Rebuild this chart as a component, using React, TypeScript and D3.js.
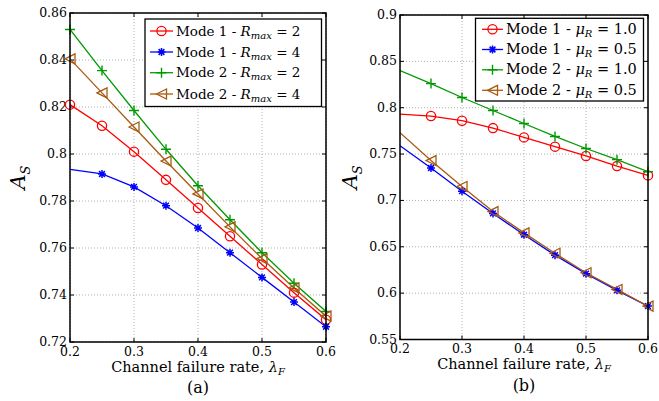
import React from "react";
import * as d3 from "d3";

const xVals = [0.2, 0.25, 0.3, 0.35, 0.4, 0.45, 0.5, 0.55, 0.6];
const xTicks = [0.2, 0.3, 0.4, 0.5, 0.6];

// Panel (a)
const aMode1R2 = [0.821, 0.812, 0.801, 0.789, 0.777, 0.765, 0.753, 0.741, 0.7295];
const aMode1R4 = [0.7935, 0.7915, 0.786, 0.778, 0.7685, 0.758, 0.7475, 0.737, 0.7265];
const aMode2R2 = [0.853, 0.8355, 0.8185, 0.802, 0.7865, 0.772, 0.758, 0.745, 0.733];
const aMode2R4 = [0.8405, 0.826, 0.8115, 0.797, 0.783, 0.769, 0.7555, 0.743, 0.731];
const aYTicks = [0.72, 0.74, 0.76, 0.78, 0.8, 0.82, 0.84, 0.86];
const aYTickLabels = ["0.72", "0.74", "0.76", "0.78", "0.8", "0.82", "0.84", "0.86"];

// Panel (b)
const bMode1Mu10 = [0.793, 0.791, 0.786, 0.778, 0.768, 0.758, 0.748, 0.737, 0.727];
const bMode1Mu05 = [0.759, 0.735, 0.71, 0.686, 0.663, 0.641, 0.621, 0.603, 0.586];
const bMode2Mu10 = [0.84, 0.826, 0.811, 0.797, 0.783, 0.769, 0.756, 0.744, 0.731];
const bMode2Mu05 = [0.773, 0.743, 0.715, 0.688, 0.665, 0.643, 0.622, 0.604, 0.586];
const bYTicks = [0.55, 0.6, 0.65, 0.7, 0.75, 0.8, 0.85, 0.9];
const bYTickLabels = ["0.55", "0.6", "0.65", "0.7", "0.75", "0.8", "0.85", "0.9"];

const RED = "#ff0000";
const BLUE = "#0000ff";
const GREEN = "#009a00";
const BROWN = "#a85a10";
const FONT = "DejaVu Serif, serif";

type MarkerKind = "circle" | "star" | "plus" | "tri";

function Marker({ kind, x, y, color }: { kind: MarkerKind; x: number; y: number; color: string }) {
  if (kind === "circle")
    return <circle cx={x} cy={y} r={4.6} fill="none" stroke={color} strokeWidth={1.3} />;
  if (kind === "plus")
    return (
      <path d={`M${x - 5},${y}H${x + 5}M${x},${y - 5}V${y + 5}`} stroke={color} strokeWidth={1.4} fill="none" />
    );
  if (kind === "star") {
    const r = 4;
    const d = r * 0.72;
    return (
      <path
        d={`M${x - r},${y}H${x + r}M${x},${y - r}V${y + r}M${x - d},${y - d}L${x + d},${y + d}M${x - d},${y + d}L${x + d},${y - d}`}
        stroke={color}
        strokeWidth={1.5}
        fill="none"
      />
    );
  }
  const s = 5;
  return (
    <path d={`M${x - s},${y}L${x + s},${y - s}L${x + s},${y + s}Z`} stroke={color} strokeWidth={1.3} fill="none" />
  );
}

interface Series {
  values: number[];
  color: string;
  kind: MarkerKind;
  skipFirst: boolean;
  label: React.ReactNode;
}

function LegendLabel({ mode, sym, sub, val }: { mode: string; sym: string; sub: string; val: string }) {
  return (
    <>
      {`Mode ${mode} - `}
      <tspan fontStyle="italic">{sym}</tspan>
      <tspan fontStyle="italic" fontSize={10} dy={3}>{sub}</tspan>
      <tspan dy={-3}>{` = ${val}`}</tspan>
    </>
  );
}

function Panel({
  left, right, top, bottom, yDomain, yTicks, yTickLabels, series, legend, caption, yLabelX, legendFont,
}: {
  left: number; right: number; top: number; bottom: number;
  yDomain: [number, number]; yTicks: number[]; yTickLabels: string[];
  series: Series[];
  legend: { x0: number; x1: number; y0: number; y1: number; rows: number[]; lineX0: number; lineX1: number; textX: number };
  caption: string; yLabelX: number; legendFont: number;
}) {
  const x = d3.scaleLinear().domain([0.2, 0.6]).range([left, right]);
  const y = d3.scaleLinear().domain(yDomain).range([bottom, top]);
  const line = d3.line<number>().x((_, i) => x(xVals[i])).y((v) => y(v));
  const cx = (left + right) / 2;
  const clipId = `clip-${caption.replace(/[()]/g, "")}`;
  return (
    <g style={{ fontFamily: FONT }}>
      <defs>
        <clipPath id={clipId}>
          <rect x={left} y={top} width={right - left} height={bottom - top} />
        </clipPath>
      </defs>
      <rect x={left} y={top} width={right - left} height={bottom - top} fill="#fff" />
      {xTicks.map((t) => (
        <line key={`gx${t}`} x1={x(t)} x2={x(t)} y1={top} y2={bottom} stroke="#b0b0b0" strokeWidth={1} strokeDasharray="1,2" />
      ))}
      {yTicks.map((t) => (
        <line key={`gy${t}`} x1={left} x2={right} y1={y(t)} y2={y(t)} stroke="#b0b0b0" strokeWidth={1} strokeDasharray="1,2" />
      ))}
      {xTicks.map((t) => (
        <g key={`tx${t}`}>
          <line x1={x(t)} x2={x(t)} y1={bottom} y2={bottom - 4} stroke="#000" />
          <line x1={x(t)} x2={x(t)} y1={top} y2={top + 4} stroke="#000" />
          <text x={x(t)} y={bottom + 13.5} textAnchor="middle" fontSize={12.5}>{String(t)}</text>
        </g>
      ))}
      {yTicks.map((t, i) => (
        <g key={`ty${t}`}>
          <line x1={left} x2={left + 4} y1={y(t)} y2={y(t)} stroke="#000" />
          <line x1={right} x2={right - 4} y1={y(t)} y2={y(t)} stroke="#000" />
          <text x={left - 3} y={y(t) + 4} textAnchor="end" fontSize={12.5}>{yTickLabels[i]}</text>
        </g>
      ))}
      <g clipPath={`url(#${clipId})`}>
        {series.map((s, si) => (
          <path key={`l${si}`} d={line(s.values) || ""} fill="none" stroke={s.color} strokeWidth={1.3} />
        ))}
      </g>
      {series.map((s, si) => (
        <g key={`m${si}`}>
          {s.values.map((v, i) =>
            s.skipFirst && i === 0 ? null : <Marker key={i} kind={s.kind} x={x(xVals[i])} y={y(v)} color={s.color} />
          )}
        </g>
      ))}
      <rect x={left} y={top} width={right - left} height={bottom - top} fill="none" stroke="#000" strokeWidth={1.5} />
      {/* legend */}
      <rect x={legend.x0} y={legend.y0} width={legend.x1 - legend.x0} height={legend.y1 - legend.y0} fill="#fff" stroke="#000" strokeWidth={1.3} />
      {series.map((s, si) => {
        const ry = legend.rows[si];
        return (
          <g key={`lg${si}`}>
            <line x1={legend.lineX0} x2={legend.lineX1} y1={ry} y2={ry} stroke={s.color} strokeWidth={1.3} />
            <Marker kind={s.kind} x={(legend.lineX0 + legend.lineX1) / 2} y={ry} color={s.color} />
            <text x={legend.textX} y={ry + 4.5} fontSize={legendFont}>{s.label}</text>
          </g>
        );
      })}
      {/* axis labels */}
      <text x={cx} y={bottom + 29.5} textAnchor="middle" fontSize={14.5}>
        Channel failure rate, <tspan fontStyle="italic">λ</tspan>
        <tspan fontStyle="italic" fontSize={10} dy={3}>F</tspan>
      </text>
      <text x={cx} y={bottom + 51} textAnchor="middle" fontSize={16}>{caption}</text>
      <g transform={`translate(${yLabelX},${(top + bottom) / 2}) rotate(-90)`}>
        <text textAnchor="middle" fontSize={21} fontStyle="italic">
          A<tspan fontSize={13} dy={5}>S</tspan>
        </text>
      </g>
    </g>
  );
}

export default function App() {
  const seriesA: Series[] = [
    { values: aMode1R2, color: RED, kind: "circle", skipFirst: false, label: <LegendLabel mode="1" sym="R" sub="max" val="2" /> },
    { values: aMode1R4, color: BLUE, kind: "star", skipFirst: true, label: <LegendLabel mode="1" sym="R" sub="max" val="4" /> },
    { values: aMode2R2, color: GREEN, kind: "plus", skipFirst: false, label: <LegendLabel mode="2" sym="R" sub="max" val="2" /> },
    { values: aMode2R4, color: BROWN, kind: "tri", skipFirst: false, label: <LegendLabel mode="2" sym="R" sub="max" val="4" /> },
  ];
  const seriesB: Series[] = [
    { values: bMode1Mu10, color: RED, kind: "circle", skipFirst: true, label: <LegendLabel mode="1" sym="μ" sub="R" val="1.0" /> },
    { values: bMode1Mu05, color: BLUE, kind: "star", skipFirst: true, label: <LegendLabel mode="1" sym="μ" sub="R" val="0.5" /> },
    { values: bMode2Mu10, color: GREEN, kind: "plus", skipFirst: true, label: <LegendLabel mode="2" sym="μ" sub="R" val="1.0" /> },
    { values: bMode2Mu05, color: BROWN, kind: "tri", skipFirst: true, label: <LegendLabel mode="2" sym="μ" sub="R" val="0.5" /> },
  ];
  return (
    <svg width={659} height={401} style={{ position: "absolute", left: 0, top: 0, background: "#fff", fontFamily: FONT }}>
      <rect width={659} height={401} fill="#fff" />
      <Panel
        left={70} right={326} top={13} bottom={342}
        yDomain={[0.72, 0.86]} yTicks={aYTicks} yTickLabels={aYTickLabels}
        series={seriesA}
        legend={{ x0: 145, x1: 321.5, y0: 19, y1: 106.5, rows: [31, 52, 72.7, 94], lineX0: 150, lineX1: 173, textX: 176 }}
        caption="(a)" yLabelX={25} legendFont={13.5}
      />
      <Panel
        left={400} right={648} top={15} bottom={339.5}
        yDomain={[0.55, 0.9]} yTicks={bYTicks} yTickLabels={bYTickLabels}
        series={seriesB}
        legend={{ x0: 475.5, x1: 643.5, y0: 18.3, y1: 101, rows: [29.3, 49.5, 69.8, 90.3], lineX0: 482, lineX1: 503, textX: 506 }}
        caption="(b)" yLabelX={357} legendFont={14.5}
      />
    </svg>
  );
}
